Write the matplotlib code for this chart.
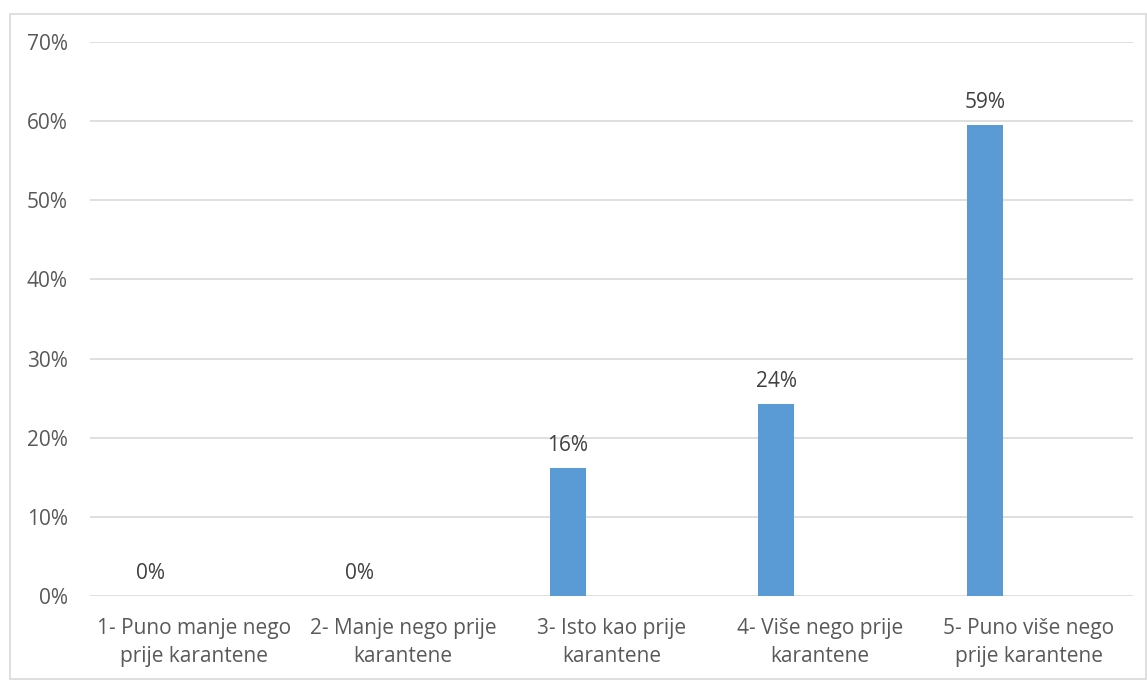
import matplotlib.pyplot as plt
import numpy as np
from matplotlib.patches import Rectangle

categories = ['1- Puno manje nego\nprije karantene', '2- Manje nego prije\nkarantene',
              '3- Isto kao prije\nkarantene', '4- Više nego prije\nkarantene',
              '5- Puno više nego\nprije karantene']
values = [0.0, 0.0, 16.2, 24.3, 59.5]
labels = ['0%', '0%', '16%', '24%', '59%']
yticks = [0, 10, 20, 30, 40, 50, 60, 70]

plt.rcParams['font.family'] = ['Open Sans', 'DejaVu Sans']
txt = '#595959'
fs = 15

fig = plt.figure(figsize=(11.47, 6.8), dpi=100)
fig.patches.append(Rectangle((10 / 1147, 1 / 680), 1136 / 1147, 665 / 680, transform=fig.transFigure,
                             fill=False, edgecolor='#D9D9D9', linewidth=1.2))
ax = fig.add_axes([90 / 1147, 84 / 680, 1043 / 1147, 554 / 680])

x = np.arange(len(categories))
off = -0.21
bars = ax.bar(x + off, values, width=0.173, color='#5B9BD5', zorder=3)
for xi, v, lab in zip(x, values, labels):
    ax.text(xi + off, v + 1.5, lab, ha='center', va='bottom', fontsize=fs, color='#404040')

ax.set_xlim(-0.5, len(categories) - 0.5)
ax.set_ylim(0, 70)
ax.set_yticks(yticks)
ax.set_yticklabels([f'{t}%' for t in yticks], fontsize=fs, color=txt)
ax.set_xticks(x)
ax.set_xticklabels(categories, fontsize=fs, color=txt, linespacing=1.4)
ax.tick_params(axis='y', length=0, pad=16)
ax.tick_params(axis='x', length=0, pad=16)
ax.grid(axis='y', color='#D9D9D9', linewidth=1.2, zorder=0)
for s in ax.spines.values():
    s.set_visible(False)

fig.savefig('out.png', dpi=100)
